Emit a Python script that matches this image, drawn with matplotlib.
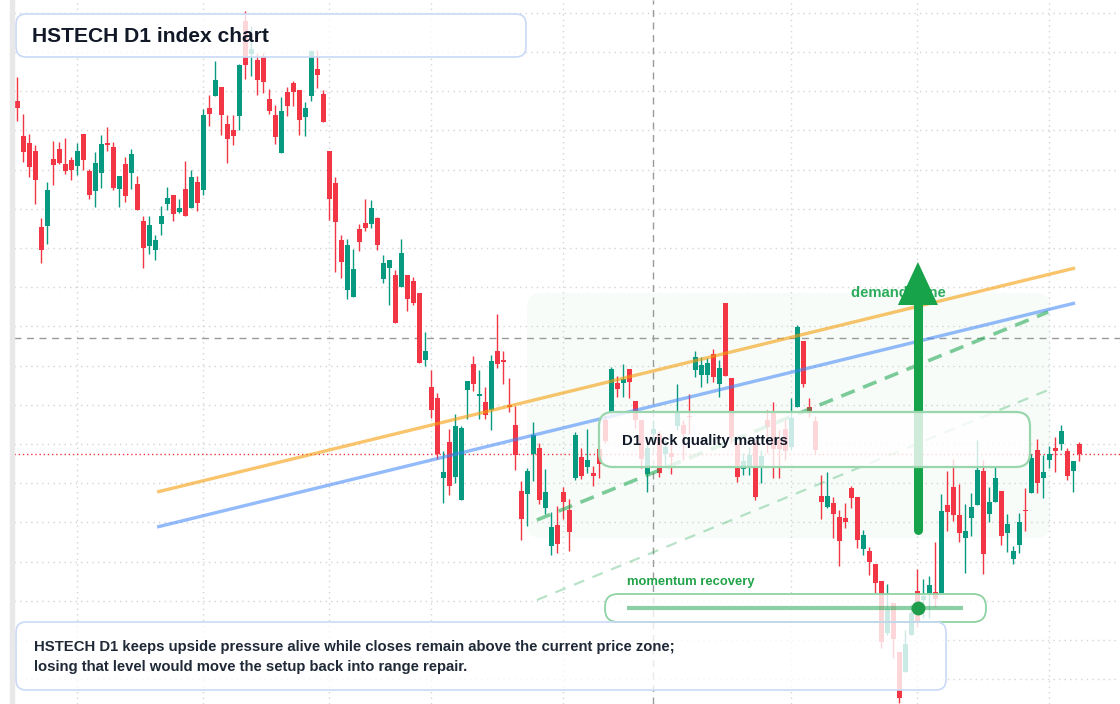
import matplotlib
matplotlib.use("Agg")
import matplotlib.pyplot as plt
import matplotlib.transforms as mtransforms
from matplotlib.patches import FancyBboxPatch, Rectangle
import numpy as np

# HSTECH D1 candles
opens = [5399, 5364, 5357, 5349, 5273, 5274, 5341, 5351, 5336, 5340,
         5334, 5366, 5329, 5309, 5327, 5357, 5353, 5311, 5336, 5327,
         5316, 5279, 5254, 5250, 5276, 5296, 5305, 5288, 5311, 5292,
         5318, 5310, 5392, 5404, 5413, 5376, 5370, 5384, 5479, 5446,
         5440, 5443, 5401, 5385, 5347, 5408, 5417, 5410, 5383, 5404,
         5431, 5406, 5349, 5317, 5260, 5210, 5203, 5271, 5277, 5276,
         5282, 5221, 5232, 5225, 5213, 5225, 5219, 5207, 5140, 5113,
         5102, 5022, 5058, 5023, 5000, 5110, 5136, 5104, 5098, 5090,
         5149, 5140, 5095, 5075, 5009, 5006, 5046, 5052, 4992, 4954,
         4975, 5008, 4990, 5022, 5043, 5033, 5027, 5051, 5080, 5087,
         5117, 5117, 5131, 5099, 5080, 5026, 5066, 5065, 5046, 5047,
         5074, 5075, 5084, 5130, 5125, 5125, 5146, 5116, 5197, 5122,
         5056, 5031, 5032, 5056, 5033, 5080, 5087, 5060, 5071, 5053,
         5093, 5159, 5093, 5079, 5004, 4993, 4997, 4983, 4982, 5012,
         5003, 4951, 4949, 4936, 4919, 4867, 4897, 4848, 4828, 4865,
         4909, 4900, 4907, 4908, 4907, 4995, 5013, 4985, 4962, 4982,
         4995, 5029, 4986, 4998, 5009, 4967, 4941, 4955, 4990, 5007,
         5050, 5022, 5040, 5052, 5056, 5049, 5029, 5056]
highs = [5423, 5386, 5366, 5355, 5282, 5318, 5359, 5358, 5362, 5343,
         5357, 5366, 5331, 5348, 5365, 5373, 5358, 5324, 5343, 5351,
         5324, 5284, 5284, 5265, 5294, 5313, 5305, 5301, 5339, 5330,
         5324, 5391, 5405, 5439, 5413, 5385, 5385, 5436, 5489, 5474,
         5447, 5447, 5411, 5395, 5403, 5413, 5419, 5410, 5398, 5450,
         5450, 5410, 5349, 5323, 5265, 5261, 5251, 5276, 5301, 5300,
         5283, 5245, 5240, 5230, 5261, 5225, 5223, 5207, 5168, 5130,
         5107, 5049, 5071, 5086, 5074, 5119, 5144, 5130, 5113, 5145,
         5186, 5149, 5122, 5094, 5019, 5032, 5078, 5057, 5031, 4988,
         4994, 5013, 5001, 5068, 5052, 5071, 5034, 5056, 5085, 5133,
         5124, 5136, 5131, 5099, 5080, 5060, 5080, 5069, 5060, 5057,
         5116, 5080, 5106, 5149, 5143, 5142, 5151, 5140, 5197, 5122,
         5057, 5047, 5053, 5060, 5050, 5090, 5098, 5070, 5080, 5102,
         5175, 5159, 5102, 5084, 5025, 5028, 5003, 4990, 4997, 5014,
         5003, 4970, 4953, 4936, 4919, 4916, 4897, 4848, 4870, 4896,
         4931, 4921, 4924, 4958, 5006, 5029, 5041, 5016, 4996, 5007,
         5060, 5040, 5013, 5033, 5009, 4986, 4954, 4987, 5012, 5046,
         5061, 5045, 5054, 5063, 5075, 5052, 5039, 5058]
lows = [5379, 5338, 5323, 5296, 5237, 5256, 5315, 5336, 5326, 5320,
        5325, 5330, 5301, 5293, 5312, 5349, 5310, 5293, 5298, 5311,
        5290, 5232, 5246, 5240, 5265, 5290, 5279, 5287, 5284, 5292,
        5289, 5305, 5374, 5404, 5365, 5337, 5355, 5370, 5421, 5424,
        5405, 5407, 5386, 5356, 5347, 5384, 5394, 5365, 5364, 5399,
        5412, 5378, 5280, 5228, 5222, 5201, 5203, 5249, 5269, 5272,
        5250, 5217, 5195, 5177, 5213, 5189, 5195, 5137, 5134, 5082,
        5041, 4997, 5005, 5017, 5000, 5081, 5109, 5081, 5081, 5070,
        5132, 5116, 5088, 5030, 4960, 4974, 5019, 4996, 4986, 4945,
        4947, 4981, 4949, 5020, 5021, 5027, 5014, 5022, 5057, 5087,
        5103, 5103, 5102, 5072, 5032, 5008, 5060, 5023, 5034, 5026,
        5070, 5040, 5066, 5123, 5113, 5117, 5118, 5103, 5124, 5057,
        5018, 5025, 5025, 5000, 5017, 5047, 5022, 5022, 5040, 5050,
        5093, 5113, 5083, 5046, 4981, 4992, 4962, 4934, 4972, 4992,
        4952, 4945, 4925, 4907, 4852, 4865, 4842, 4797, 4828, 4865,
        4873, 4882, 4882, 4893, 4907, 4969, 4979, 4958, 4927, 4964,
        4995, 4926, 4978, 4998, 4955, 4948, 4936, 4947, 4969, 5007,
        5007, 5002, 5032, 5028, 5050, 5020, 5008, 5039]
closes = [5392, 5348, 5333, 5320, 5250, 5310, 5335, 5337, 5329, 5330,
          5349, 5340, 5305, 5337, 5356, 5355, 5312, 5324, 5304, 5346,
          5290, 5252, 5275, 5260, 5284, 5302, 5286, 5292, 5284, 5323,
          5297, 5385, 5386, 5420, 5385, 5361, 5364, 5435, 5435, 5451,
          5420, 5418, 5389, 5363, 5389, 5394, 5408, 5380, 5392, 5449,
          5425, 5378, 5301, 5278, 5238, 5255, 5231, 5258, 5272, 5292,
          5255, 5237, 5240, 5177, 5247, 5201, 5197, 5137, 5149, 5090,
          5046, 5028, 5014, 5074, 5072, 5119, 5116, 5106, 5085, 5139,
          5136, 5138, 5093, 5045, 4981, 5029, 5065, 5000, 5008, 4973,
          4956, 4998, 4968, 5065, 5024, 5040, 5024, 5036, 5059, 5131,
          5111, 5121, 5118, 5080, 5041, 5052, 5071, 5027, 5053, 5043,
          5087, 5066, 5083, 5143, 5135, 5137, 5123, 5132, 5124, 5063,
          5023, 5039, 5045, 5003, 5044, 5073, 5051, 5051, 5049, 5082,
          5173, 5116, 5087, 5050, 4998, 5004, 4986, 4959, 4978, 5002,
          4960, 4965, 4938, 4917, 4858, 4891, 4861, 4802, 4856, 4887,
          4878, 4904, 4915, 4901, 4989, 4988, 4985, 4967, 4969, 4993,
          5030, 4946, 4998, 5022, 4964, 4976, 4949, 4978, 4989, 5042,
          5017, 5028, 5046, 5049, 5069, 5024, 5039, 5046]

# drawn levels (bar index, price)
trend_x = [23.3, 176.3]
orange_y = [5008, 5232]
blue_y = [4973, 5197]
channel_x = [86.6, 171.8]
channel_hi = [4980, 5188]
channel_lo = [4900, 5110]
cross_idx = 106
cross_price = 5162
arrow_idx = 150.1
arrow_from, arrow_base, arrow_tip = 4970, 5195, 5238
month_idx = [10, 31, 52, 69, 91, 129, 150, 172]

GREEN = "#089981"
RED = "#f23645"
ZONE = "#16a34a"
INK = "#111827"

plt.rcParams["font.family"] = ["Liberation Sans", "DejaVu Sans"]

W, H = 1120, 704
fig = plt.figure(figsize=(W / 100, H / 100), dpi=100)
ax = fig.add_axes([14 / W, 0, 1 - 14 / W, 1])
ax.set_xlim(-0.55, 183.78)
ax.set_ylim(4796, 5500)
for s in ax.spines.values():
    s.set_visible(False)
ax.set_yticks(5487.3 - 39.2 * np.arange(18))
ax.set_xticks(month_idx)
ax.tick_params(length=0, labelleft=False, labelbottom=False)
ax.grid(True, color="#d4d4d4", linestyle=(0, (1, 3)), lw=1, zorder=0)
ax.set_axisbelow(True)

# left price-scale strip
fig.patches.append(Rectangle((10 / W, 0), 4 / W, 1, transform=fig.transFigure,
                             color="#e8e8e8", zorder=0))

# pixel coordinates, origin top-left
px = mtransforms.Affine2D().scale(1, -1).translate(0, H)

# demand zone background
ax.add_patch(FancyBboxPatch((527, 293), 523, 245, boxstyle="round,pad=0,rounding_size=14",
                            transform=px, fc=ZONE, alpha=0.03, lw=0, zorder=0.5))

# candles
o, hi, lo, c = map(np.array, (opens, highs, lows, closes))
idx = np.arange(len(o))
cols = np.where(c >= o, GREEN, RED)
ax.vlines(idx, lo, hi, colors=cols, lw=1, zorder=2)
ax.bar(idx, np.maximum(np.abs(c - o), 1.3), bottom=np.minimum(o, c), width=0.78,
       color=cols, lw=0, zorder=3)

# crosshair and last price
ax.axvline(cross_idx, color="#9a9a9a", lw=1, ls=(0, (5, 4)), zorder=1.5)
ax.axhline(cross_price, color="#9a9a9a", lw=1, ls=(0, (5, 4)), zorder=1.5)
ax.axhline(closes[-1], color=RED, lw=1, ls=(0, (1, 2)), zorder=1.5)

# trend lines
ax.plot(trend_x, orange_y, color="#f59e0b", alpha=0.6, lw=2.4, zorder=4, solid_capstyle="butt")
ax.plot(trend_x, blue_y, color="#3b82f6", alpha=0.55, lw=2.4, zorder=4, solid_capstyle="butt")
ax.plot(channel_x, channel_hi, color=ZONE, alpha=0.55, lw=2.6, ls=(0, (4, 2.5)), zorder=4)
ax.plot(channel_x, channel_lo, color=ZONE, alpha=0.3, lw=1.6, ls=(0, (5, 4)), zorder=4)

ax.text(851, 293, "demand zone", transform=px, color=ZONE, alpha=0.9, fontsize=10.7,
        fontweight="bold", va="center", ha="left", zorder=5)

# upward arrow
ax.plot([arrow_idx, arrow_idx], [arrow_from, arrow_base], color=ZONE, lw=6.5,
        solid_capstyle="round", zorder=6)
ax.fill([arrow_idx - 3.33, arrow_idx + 3.33, arrow_idx], [arrow_base, arrow_base, arrow_tip],
        color=ZONE, lw=0, zorder=6)


def note_box(x, y, w, h, edge, lw, r=10):
    ax.add_patch(FancyBboxPatch((x, y), w, h, boxstyle=f"round,pad=0,rounding_size={r}",
                                transform=px, fc="white", ec="none", alpha=0.8, zorder=7))
    ax.add_patch(FancyBboxPatch((x, y), w, h, boxstyle=f"round,pad=0,rounding_size={r}",
                                transform=px, fc="none", ec=edge, lw=lw, zorder=7.5))


# title
note_box(16, 14, 510, 43, "#c9daf6", 1.2)
ax.text(32, 36, "HSTECH D1 index chart", transform=px, fontsize=15.1, fontweight="bold",
        color=INK, va="center", ha="left", zorder=8)

# wick note
note_box(599, 412, 431, 55, "#9ad6ad", 1.6, r=14)
ax.text(622, 441, "D1 wick quality matters", transform=px, fontsize=10.8, fontweight="bold",
        color=INK, va="center", ha="left", zorder=8)

# momentum gauge
ax.text(627, 582, "momentum recovery", transform=px, fontsize=9.4, fontweight="bold",
        color="#22a34a", va="center", ha="left", zorder=8)
note_box(605, 594, 381, 28, "#8fd3a4", 1.3, r=13)
ax.plot([627, 963], [607.5, 607.5], transform=px, color=ZONE, alpha=0.5, lw=3,
        solid_capstyle="butt", zorder=8)
ax.plot([918], [607.5], transform=px, marker="o", ms=10, color="#1f9d4a", mec="none", zorder=8.5)

# bottom commentary
note_box(16, 622, 930, 68, "#c9daf6", 1.2)
ax.text(34, 647, "HSTECH D1 keeps upside pressure alive while closes remain above the current price zone;",
        transform=px, fontsize=10.7, fontweight="bold", color="#1f2937", va="center", ha="left", zorder=8)
ax.text(34, 667, "losing that level would move the setup back into range repair.",
        transform=px, fontsize=10.7, fontweight="bold", color="#1f2937", va="center", ha="left", zorder=8)

fig.savefig("out.png", dpi=100)
